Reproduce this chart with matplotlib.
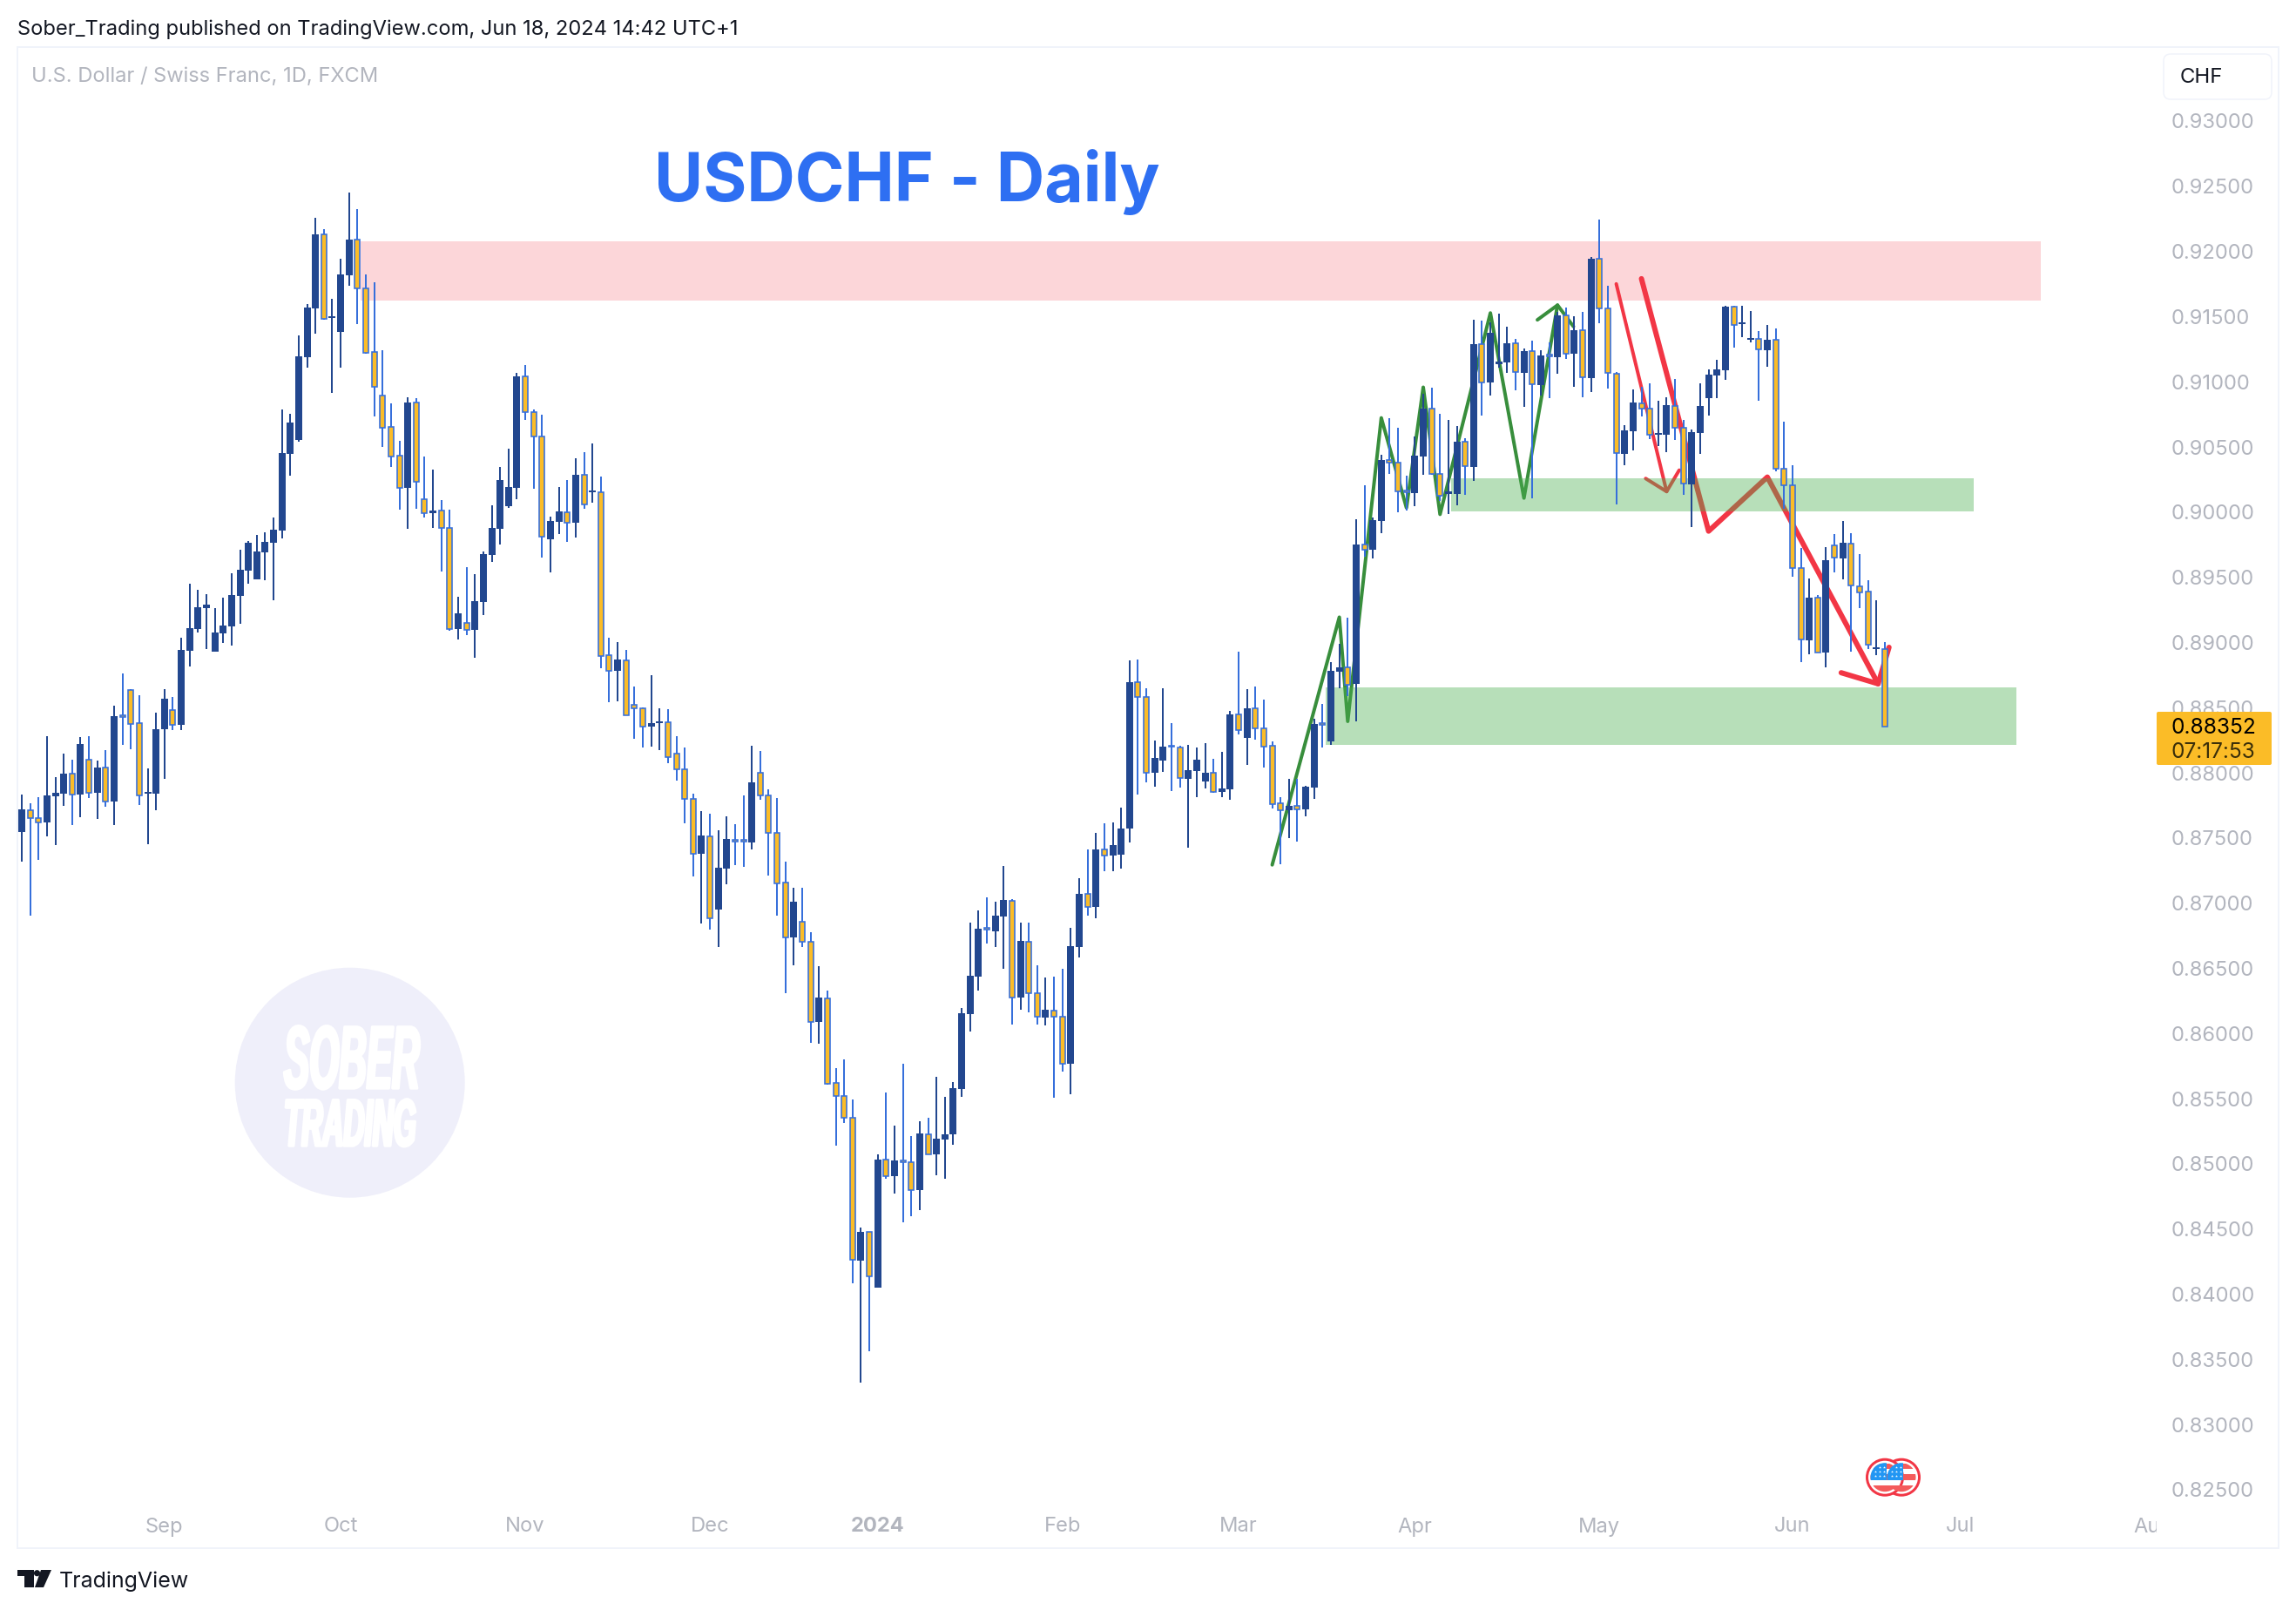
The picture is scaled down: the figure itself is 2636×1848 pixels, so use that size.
# usdchf daily chart, candles
import numpy as np
import matplotlib
matplotlib.use('Agg')
from matplotlib import pyplot as plt
from matplotlib.patches import Rectangle, Circle, FancyBboxPatch, Polygon
from matplotlib.patheffects import AbstractPathEffect
from matplotlib.transforms import Affine2D

# prices in 1e-5 chf
highs = [87834,87768,87812,88281,87965,88149,88101,88273,88281,88094,
88174,88515,88761,88640,88596,88035,88460,88640,88581,89036,
89450,89403,89370,89263,89344,89531,89711,89776,89824,89846,
89960,90788,90755,91357,91595,92258,92170,91635,91947,92453,
92324,91822,91763,91243,90832,90546,90880,90873,90427,90326,
90093,90018,89351,89578,89523,89698,90051,90346,90485,91068,
91130,90786,90747,89967,90193,90245,90414,90459,90527,90271,
89037,89001,88943,88661,88500,88748,88496,88489,88282,88194,
87838,87705,87686,87559,87666,87605,87825,88207,88168,87874,
87806,87319,87116,87116,86776,86516,86328,85735,85800,85493,
84511,84481,85072,85547,85293,85768,85212,85326,85353,85666,
85514,85627,86194,86851,86943,87045,87012,87283,87030,86851,
86851,86522,86430,86436,86496,86809,87191,87412,87540,87612,
87618,87734,88863,88870,88649,88248,88649,88381,88208,88214,
88194,88228,88107,88161,88475,88929,88642,88662,88562,88239,
87813,87954,87954,87900,88415,88528,88849,88990,89190,89947,
90206,89959,90439,90720,90648,90281,90579,90908,90955,90755,
90708,90660,90567,91478,91469,91454,91522,91424,91328,91257,
91316,91242,91301,91537,91570,91501,91537,91958,92246,91736,
91075,90668,90940,90961,90988,90855,90882,91022,90707,90633,
90988,91096,91167,91582,91580,91582,91543,91389,91437,91411,
90694,90359,89724,89492,89365,89732,89833,89933,89838,89679,
89478,89323,89000]
lows = [87320,86902,87331,87511,87445,87746,87599,87658,87808,87647,
87738,87599,88215,88182,87753,87452,87713,87955,88328,88328,
88816,89076,88948,88930,88996,88977,89142,89450,89483,89476,
89322,89799,90279,90539,91107,91368,91478,90913,91107,91738,
91441,91214,90733,90499,90345,90018,89872,90026,89960,89879,
89545,89089,89024,89056,88881,89208,89617,89753,90031,90099,
90709,90180,89652,89539,89831,89772,89805,90025,90074,88803,
88541,88548,88440,88259,88194,88201,88175,88074,87938,87611,
87203,86843,86798,86662,87145,87290,87277,87410,87793,87213,
86905,86308,86522,86663,85929,85920,85606,85138,85314,84082,
83324,83562,84049,84884,84771,84550,84598,84646,85070,84911,
84884,85147,85514,86015,86328,86690,86663,86496,86069,86182,
86161,86069,86063,85508,85708,85535,86582,86904,86884,87245,
87245,87265,87465,87835,87927,87893,88007,87860,87887,87426,
87813,87880,87847,87813,87793,88295,88061,88254,88041,87726,
87299,87499,87472,87666,87800,88194,88214,88649,88589,88398,
89660,89645,89839,90293,89997,90012,90045,90287,90287,90087,
89986,90051,90132,90239,90740,90896,91108,91069,90934,90809,
90105,90896,90875,91063,91176,90961,90881,90923,91450,90948,
90060,90359,90472,90734,90559,90507,90459,90554,90131,89885,
90446,90742,90874,91014,91263,91342,91302,90855,91115,90314,
90026,89505,88849,88910,88920,88810,89537,89484,88929,89264,
88950,88902,88352]
body_tops = [87720,87716,87654,87826,87845,87995,87995,88222,88101,88039,
88039,88435,88442,88636,88380,87856,88336,88567,88482,88944,
89109,89271,89289,89076,89131,89362,89557,89765,89700,89773,
89864,90455,90686,91195,91569,92130,92130,91503,91822,92090,
92090,91719,91228,90895,90653,90433,90840,90840,90096,90012,
90009,89876,89225,89153,89315,89678,89879,90245,90193,91042,
91039,90770,90582,89931,90006,90002,90287,90284,90168,90155,
88901,88868,88865,88525,88492,88382,88395,88386,88149,88029,
87802,87517,87514,87271,87491,87488,87485,87925,88003,87828,
87537,87155,87012,86860,86707,86275,86272,85618,85523,85356,
84478,84475,85033,85030,85024,85024,85010,85233,85230,85192,
85227,85580,86155,86442,86803,86812,86904,87024,87021,86710,
86707,86311,86182,86179,86132,86669,87072,87069,87412,87409,
87445,87573,88695,88695,88582,88114,88201,88208,88192,88020,
88101,88000,87998,87880,88448,88446,88495,88493,88339,88205,
87764,87746,87746,87893,88375,88381,88782,88809,88807,89753,
89750,89938,90400,90397,90382,90165,90433,90794,90791,90290,
90156,90541,90538,91290,91287,91376,91155,91296,91293,91236,
91233,91203,91209,91510,91507,91397,91394,91943,91942,91561,
91064,90628,90842,90837,90792,90607,90821,90816,90644,90615,
90813,91054,91096,91577,91574,91455,91334,91326,91323,91321,
90330,90203,89568,89344,89344,89632,89743,89764,89761,89434,
89389,88963,88952]
body_bottoms = [87544,87650,87617,87617,87819,87841,87834,87834,87848,87845,
87782,87779,88427,88376,87826,87841,87841,88332,88369,88369,
88937,89102,89263,88930,89069,89124,89359,89549,89483,89692,
89765,89857,90447,90554,91188,91562,91485,91489,91382,91818,
91719,91225,90964,90649,90429,90187,90187,90231,89989,89989,
89876,89105,89102,89098,89095,89309,89672,89873,90044,90187,
90770,90582,89814,89792,89925,89921,89918,90061,90151,88897,
88784,88781,88444,88492,88356,88353,88382,88123,88029,87802,
87381,87378,86885,86950,87264,87475,87475,87465,87828,87537,
87154,86740,86737,86707,86090,86087,85615,85523,85356,84261,
84258,84138,84049,84908,84905,85010,84801,84798,85075,85072,
85186,85227,85574,86149,86436,86797,86782,86898,86278,86275,
86311,86126,86123,86132,85770,85768,86663,86973,86970,87367,
87364,87373,87570,88582,88000,88000,88094,88199,87958,87956,
88016,87936,87856,87853,87873,88330,88268,88339,88203,87762,
87715,87713,87720,87720,87887,88370,88241,88776,88678,88679,
89714,89711,89932,90382,90162,90150,90147,90430,90290,90129,
90141,90141,90350,90347,90997,90994,91134,91149,91072,91069,
90979,90976,91197,91188,91218,91215,91033,91027,91561,91067,
90451,90446,90620,90792,90591,90594,90594,90647,90219,90216,
90607,90874,91048,91091,91434,91445,91323,91247,91241,90330,
90203,89571,89021,89019,88926,88923,89650,89645,89436,89386,
88984,88950,88353]
directions = ("UDDUUUDUDU" "DUDDDUUUDU" "UUUUUUUUUU" "UUUUUUDUUU" "DDDDDDUDDU"
              "DDUDUUUUUU" "DDDUUDUDUD" "DUDDDUUDDD" "DUDUUDDUDD" "DDUDDUDDDD"
              "UDUDUDDUDU" "UUUUUDUUDU" "DDUDDUUDUD" "UUUDDUUDDU" "UUDUUDUDDD"
              "DUDUUDUUDU" "DUUDDDUUDD" "UUDUDUUUDU" "DUDUDUDUDD" "DUUDDUUDDU"
              "UUUUDUUDUD" "DDDUDUDUDD" "DUD")

price_ticks = [0.825,0.83,0.835,0.84,0.845,0.85,0.855,0.86,0.865,0.87,0.875,
               0.88,0.885,0.89,0.895,0.9,0.905,0.91,0.915,0.92,0.925,0.93]
month_pos = [17,38,60,82,102,124,145,166,188,211,231,254]
month_names = ['Sep','Oct','Nov','Dec','2024','Feb','Mar','Apr','May','Jun','Jul','Aug']

# drawings on the chart (bar number, price)
zone_red = (40.4, 240.6, 0.91624, 0.92076)
zone_green_mid = (170.3, 232.6, 0.90006, 0.90260)
zone_green_low = (155.4, 237.7, 0.88214, 0.88655)
green_bars = [149,157,158,162,165,167,169,175,179,183]
green_prices = [0.87294,0.89194,0.88395,0.90723,0.90033,0.90958,0.89983,0.91528,0.90108,0.91588]
green_head_bars = [180.6,183,184.9]
green_head_prices = [0.91475,0.91588,0.91424]
thin_red_bars = [190,196]
thin_red_prices = [0.91751,0.90158]
thin_head_bars = [193.5,196,197.5]
thin_head_prices = [0.90258,0.90158,0.90322]
thick_red_bars = [193,201,208,221.2]
thick_red_prices = [0.91791,0.89854,0.90269,0.88683]
thick_head_bars = [216.8,221.2,222.5]
thick_head_prices = [0.88768,0.88683,0.88963]

W, H = 2636, 1848
UP = '#22478F'
DOWN_EDGE = '#366FDB'
DOWN_FILL = '#FBBC27'
RED = '#F23645'
GREEN = '#388E3C'
GREY = '#B2B5BE'
DARK = '#131722'
BORDER = '#F0F3FA'
FONT = ['Inter', 'DejaVu Sans']
px = 0.72  # 1 px in points at dpi 100


class Squash(AbstractPathEffect):
    # stretch the glyphs, no condensed face is installed
    def __init__(self, sx, sy, stroke=2.5):
        super().__init__()
        self.sx = sx
        self.sy = sy
        self.stroke = stroke

    def draw_path(self, renderer, gc, tpath, affine, rgbFace=None):
        gc0 = renderer.new_gc()
        gc0.copy_properties(gc)
        gc0.set_linewidth(self.stroke)
        gc0.set_foreground(rgbFace)
        renderer.draw_path(gc0, tpath, Affine2D().scale(self.sx, self.sy) + affine, rgbFace)
        gc0.restore()


plt.rcParams['font.family'] = FONT
fig = plt.figure(figsize=(W / 100, H / 100), dpi=100, facecolor='white')
ax = fig.add_axes([21 / W, 1 - 1777 / H, (2476 - 21) / W, (1777 - 54) / H])
ax.set_xlim(-0.415, 254.39)
ax.set_ylim(0.82052, 0.93568)
for s in ax.spines.values():
    s.set_visible(False)

x = np.arange(len(highs))
hi = np.array(highs) / 1e5
lo = np.array(lows) / 1e5
top = np.array(body_tops) / 1e5
bot = np.array(body_bottoms) / 1e5
up = np.array([d == 'U' for d in directions])

# lines sit under the zones, candles on top of everything
for bx, by in [(green_bars, green_prices), (green_head_bars, green_head_prices)]:
    ax.plot(bx, by, color=GREEN, lw=4 * px, solid_joinstyle='round', solid_capstyle='round', zorder=2)
for bx, by in [(thin_red_bars, thin_red_prices), (thin_head_bars, thin_head_prices)]:
    ax.plot(bx, by, color=RED, lw=4 * px, solid_joinstyle='round', solid_capstyle='round', zorder=2)
for bx, by in [(thick_red_bars, thick_red_prices), (thick_head_bars, thick_head_prices)]:
    ax.plot(bx, by, color=RED, lw=6 * px, solid_joinstyle='round', solid_capstyle='round', zorder=2)

for z, col, a in [(zone_red, RED, 0.2), (zone_green_mid, '#4CAF50', 0.4), (zone_green_low, '#4CAF50', 0.4)]:
    ax.add_patch(Rectangle((z[0], z[2]), z[1] - z[0], z[3] - z[2], fc=col, alpha=a, ec='none', zorder=3))

ax.vlines(x[up], lo[up], hi[up], color=UP, lw=2 * px, zorder=4)
ax.vlines(x[~up], lo[~up], hi[~up], color=DOWN_EDGE, lw=2 * px, zorder=4)
ax.bar(x[up], (top - bot)[up], bottom=bot[up], width=8 / 9.635, color=UP, lw=0, zorder=5)
ax.bar(x[~up], (top - bot)[~up], bottom=bot[~up], width=6 / 9.635, color=DOWN_FILL,
       edgecolor=DOWN_EDGE, lw=1.6 * px, zorder=5)

ax.yaxis.tick_right()
ax.set_yticks(price_ticks)
ax.set_yticklabels(['%.5f' % p for p in price_ticks])
ax.tick_params(axis='y', length=0, pad=17 * px, labelsize=23.7 * px, labelcolor=GREY)
ax.set_xticks(month_pos)
ax.set_xticklabels(month_names)
ax.tick_params(axis='x', length=0, pad=-35.5 * px, labelsize=23.7 * px, labelcolor=GREY)
for lbl in ax.get_xticklabels():
    lbl.set_clip_on(True)
    lbl.set_clip_box(ax.bbox)
    if lbl.get_text() == '2024':
        lbl.set_fontweight('bold')

# overlay in figure pixels for the page furniture
deco = fig.add_axes([0, 0, 1, 1], zorder=10)
deco.set_xlim(0, W)
deco.set_ylim(H, 0)
deco.set_axis_off()
deco.patch.set_alpha(0)

deco.add_patch(Rectangle((20, 54), 2596, 1723, fc='none', ec=BORDER, lw=2 * px))
deco.text(20, 33.5, 'Sober_Trading published on TradingView.com, Jun 18, 2024 14:42 UTC+1',
          color=DARK, fontsize=23.7 * px, va='center')
deco.text(36, 87.5, 'U.S. Dollar / Swiss Franc, 1D, FXCM', color=GREY, fontsize=23.7 * px, va='center')
deco.text(751, 209, 'USDCHF - Daily', color='#2E6FF2', fontsize=76.8 * px, fontweight='bold', va='center')

deco.add_patch(FancyBboxPatch((2492, 70), 108, 36, boxstyle='round,pad=8,rounding_size=8',
                              fc='white', ec=BORDER, lw=1.5 * px))
deco.text(2503, 89, 'CHF', color=DARK, fontsize=24 * px, va='center')

deco.add_patch(FancyBboxPatch((2478, 819), 128, 57, boxstyle='round,pad=2,rounding_size=2',
                              fc=DOWN_FILL, ec='none'))
deco.text(2493, 836, '0.88352', color='black', fontsize=24.5 * px, va='center')
deco.text(2493, 864, '07:17:53', color='#3A2E0A', fontsize=24.5 * px, va='center')

# watermark, small font stretched up so the boxes stay apart
deco.add_patch(Circle((401.7, 1242.7), 132, fc='#EFEFFA', ec='none', zorder=1))
deco.text(326, 1249, 'SOBER', color='white', fontsize=60 * px, fontweight='bold', style='italic',
          va='baseline', family=['Liberation Sans'], path_effects=[Squash(0.73, 1.7)], zorder=2)
deco.text(326, 1315, 'TRADING', color='white', fontsize=45 * px, fontweight='bold', style='italic',
          va='baseline', family=['Liberation Sans'], path_effects=[Squash(0.74, 1.69)], zorder=2)

# the two US event flags
for cx in [2183, 2164]:
    deco.add_patch(Circle((cx, 1695.7), 20.5, fc='white', ec=RED, lw=3 * px, zorder=3))
    clip = Circle((cx, 1695.7), 16.5, transform=deco.transData)
    for y0, y1 in [(1680, 1686), (1692, 1699), (1705, 1713)]:
        r = deco.add_patch(Rectangle((cx - 18, y0), 36, y1 - y0, fc='#F45B5B', ec='none', zorder=4))
        r.set_clip_path(clip)
    r = deco.add_patch(Rectangle((cx - 18, 1679), 18 + 2, 20, fc='#2196F3', ec='none', zorder=5))
    r.set_clip_path(clip)
    deco.scatter(cx + np.array([-6, -1, -11, -6, -1, -11, -6, -1]),
                 1695.7 + np.array([-12, -12, -7, -7, -7, -2, -2, -2]),
                 s=5, marker='*', color='white', lw=0, zorder=6)

# tradingview mark
deco.add_patch(Polygon([(20, 1802), (39, 1802), (39, 1822), (28, 1822), (28, 1809), (20, 1809)], fc=DARK, ec='none'))
deco.add_patch(Circle((42.5, 1805.7), 3.6, fc=DARK, ec='none'))
deco.add_patch(Polygon([(47, 1802), (59, 1802), (50, 1822), (40, 1822)], fc=DARK, ec='none'))
deco.text(68, 1815, 'TradingView', color=DARK, fontsize=25 * px, va='center')

fig.savefig('out.png', dpi=100)
